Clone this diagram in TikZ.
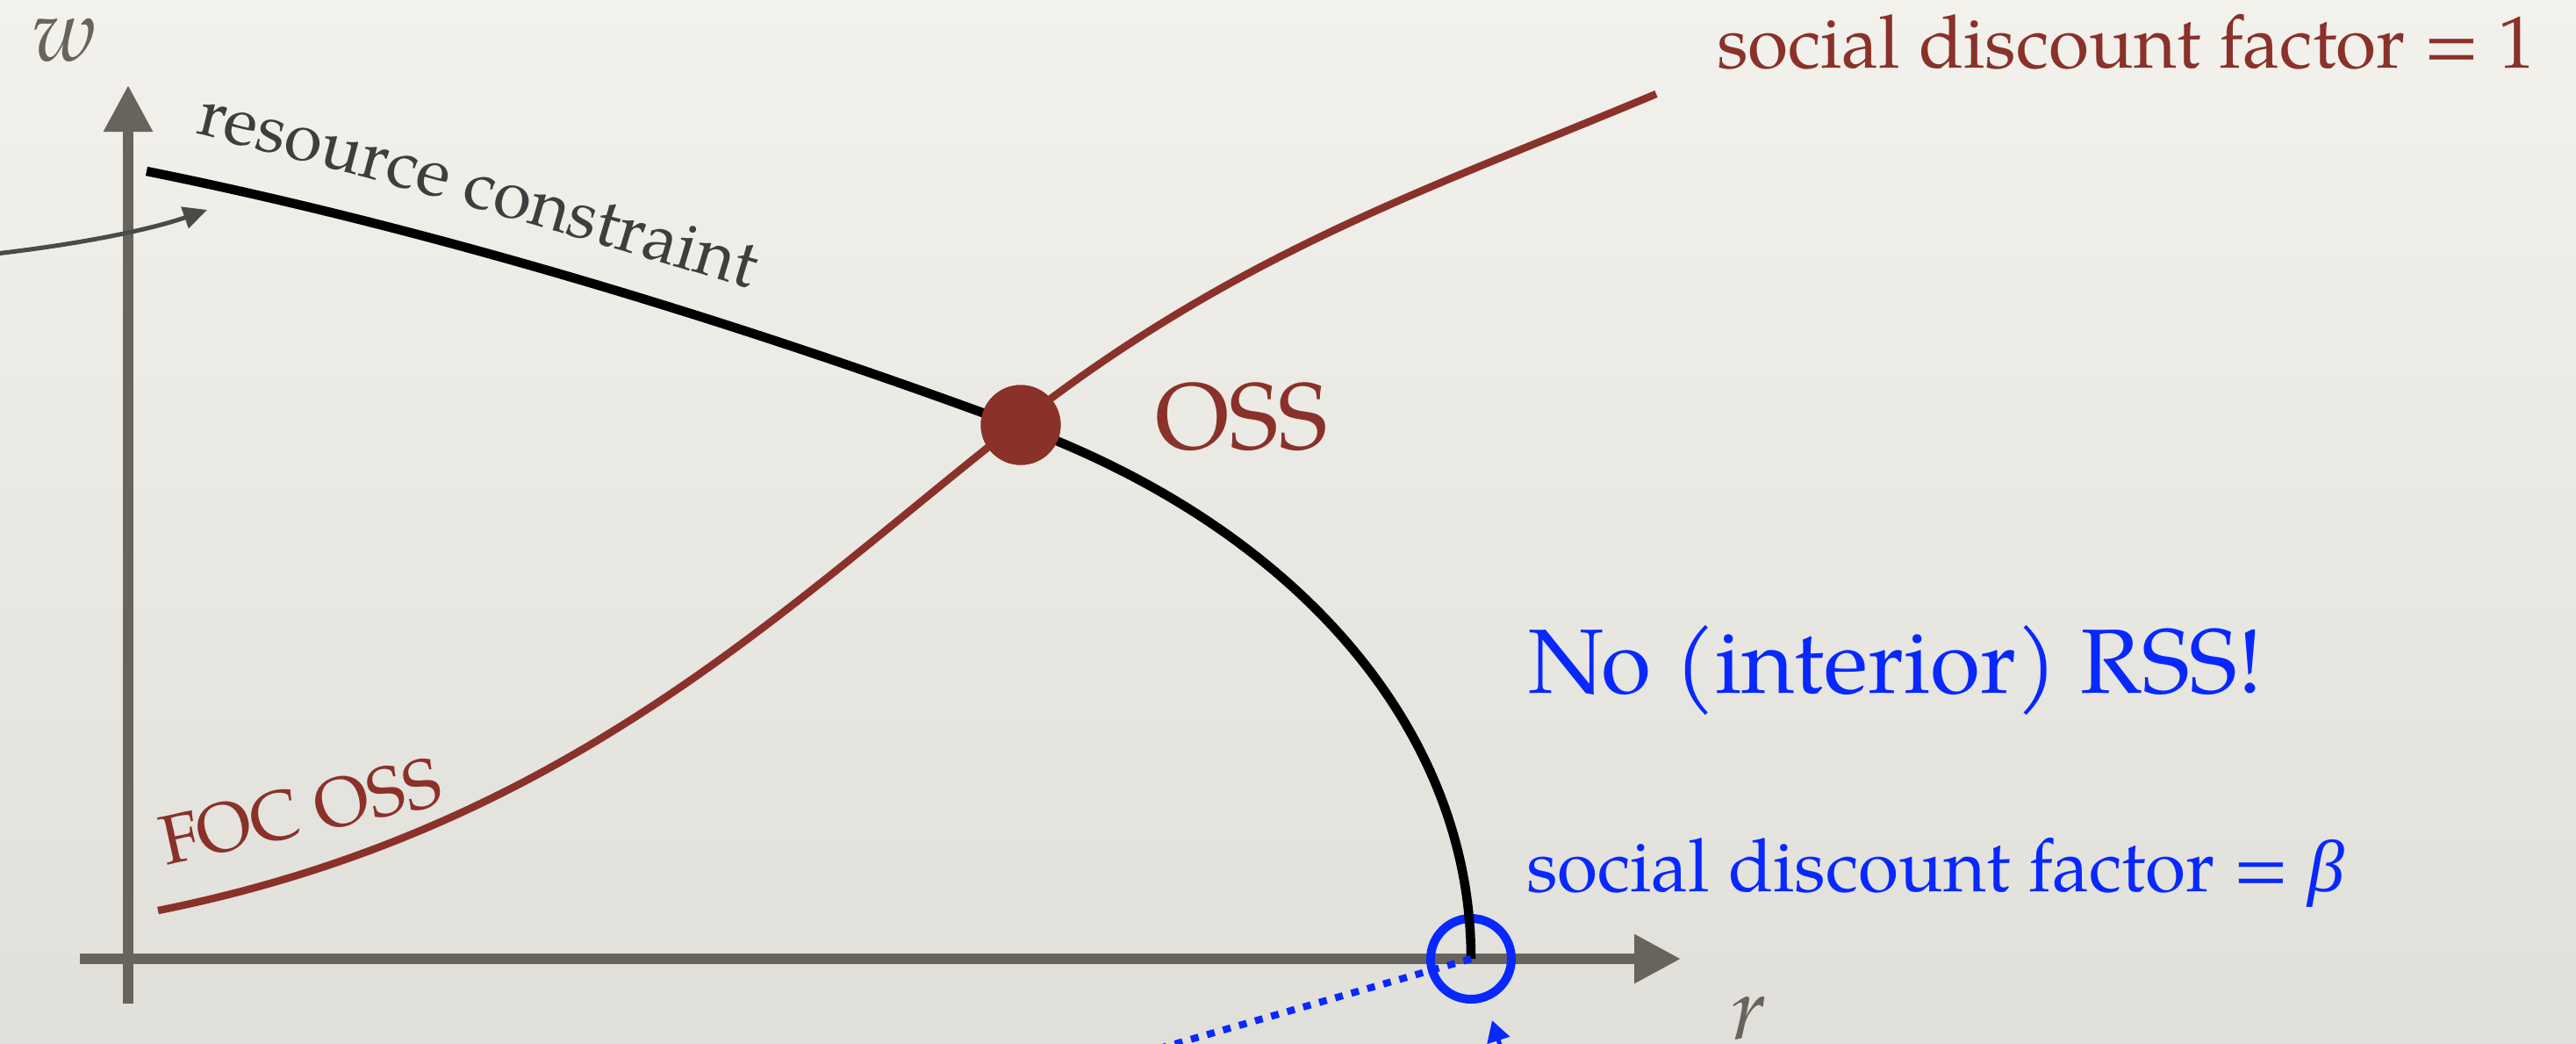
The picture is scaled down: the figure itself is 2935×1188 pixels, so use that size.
\documentclass[tikz,border=0pt]{standalone}
\usepackage{fontspec}
\setmainfont{TeX Gyre Pagella}
\newfontfamily\grkfont{Liberation Serif}
\usetikzlibrary{arrows.meta,decorations.text}
\definecolor{axisgray}{RGB}{103,99,93}
\definecolor{oxred}{RGB}{138,49,42}
\definecolor{rssblue}{RGB}{8,40,255}
\definecolor{txtgray}{RGB}{62,62,62}
\definecolor{arrowgray}{RGB}{74,74,74}
\definecolor{bgtop}{RGB}{242,241,235}
\definecolor{bgbot}{RGB}{224,223,218}
\tikzset{
  axisline/.style={draw=axisgray, line width=12pt, -{Triangle[length=53pt,width=53pt]}},
  rcline/.style={draw=black, line width=10.5pt},
  focline/.style={draw=oxred, line width=8.5pt},
  lbl/.style={inner sep=0pt, outer sep=0pt, anchor=base west},
  pointer/.style={line width=5pt},
}
\begin{document}
\begin{tikzpicture}[x=1pt,y=-1pt]
\useasboundingbox (0,0) rectangle (2935,1188);
\clip (0,0) rectangle (2935,1188);
\shade[top color=bgtop, bottom color=bgbot] (0,0) rectangle (2935,1188);

% axes
\coordinate (ybot) at (146,1143);
\coordinate (ytop) at (146,97);
\coordinate (xleft) at (91,1092);
\coordinate (xright) at (1915,1092);
\draw[axisline] (ybot) -- (ytop);
\draw[axisline] (xleft) -- (xright);

% nodes
\node[circle, fill=oxred, minimum size=91pt, inner sep=0pt] (oss) at (1163,484) {};
\node[circle, draw=rssblue, line width=10pt, minimum size=92pt, inner sep=0pt] (rss) at (1676,1092) {};
\coordinate (rcstart) at (167,195);
\coordinate (rcpass) at (1163,486);
\coordinate (focstart) at (180,1037);
\coordinate (focpass) at (1163,480);
\coordinate (focend) at (1887,107);

% resource constraint
\draw[rcline] (rcstart) .. controls (500,262) and (850,370) .. (rcpass)
  .. controls (1476,602) and (1676,830) .. (rss.center);

% FOC OSS curve
\draw[focline] (focstart) .. controls (650,943) and (900,685) .. (focpass)
  .. controls (1413,285) and (1637,212) .. (focend);

\node[circle, fill=oxred, minimum size=91pt, inner sep=0pt] at (oss.center) {};

% labels
\path[decorate, decoration={text along path, text align=left,
  text={|\fontsize{78}{80}\selectfont\color{txtgray}|resource constraint}}]
  (222,152) .. controls (420,200) and (640,262) .. (1000,374);
\node[lbl, text=oxred, font=\fontsize{84}{90}\selectfont] (sdf1) at (1956,78) {social discount factor = 1};
\node[lbl, text=rssblue, font=\fontsize{84}{90}\selectfont] (sdfb) at (1739,1015) {social discount factor = {\grkfont\itshape β}};
\node[lbl, text=rssblue, font=\fontsize{104}{110}\selectfont] (norss) at (1741,789) {No (interior) RSS!};
\node[lbl, text=oxred, font=\fontsize{107}{110}\selectfont] (osslbl) at (1316,511) {OSS};
\node[lbl, text=oxred, font=\fontsize{79}{80}\selectfont, rotate=12.4] (foc) at (189,985) {FOC OSS};
\node[lbl, text=axisgray, font=\fontsize{100}{100}\selectfont\itshape] (wlbl) at (37,70) {w};
\node[lbl, text=axisgray, font=\fontsize{100}{100}\selectfont\itshape] (rlbl) at (1972,1183) {r};

% pointers
\coordinate (gstart) at (-5,289);
\coordinate (gtip) at (236,239);
\draw[pointer, arrowgray, -{Triangle[length=27pt,width=25pt]}] (gstart) .. controls (90,278) and (170,262) .. (gtip);

\coordinate (dotend) at (1300,1200);
\draw[rssblue, line width=8pt, dash pattern=on 9pt off 10pt] (rss.center) -- (dotend);

\coordinate (bstart) at (1725,1240);
\coordinate (btip) at (1700,1162);
\draw[pointer, rssblue, -{Triangle[length=24pt,width=26pt]}] (bstart) -- (btip);
\end{tikzpicture}
\end{document}
